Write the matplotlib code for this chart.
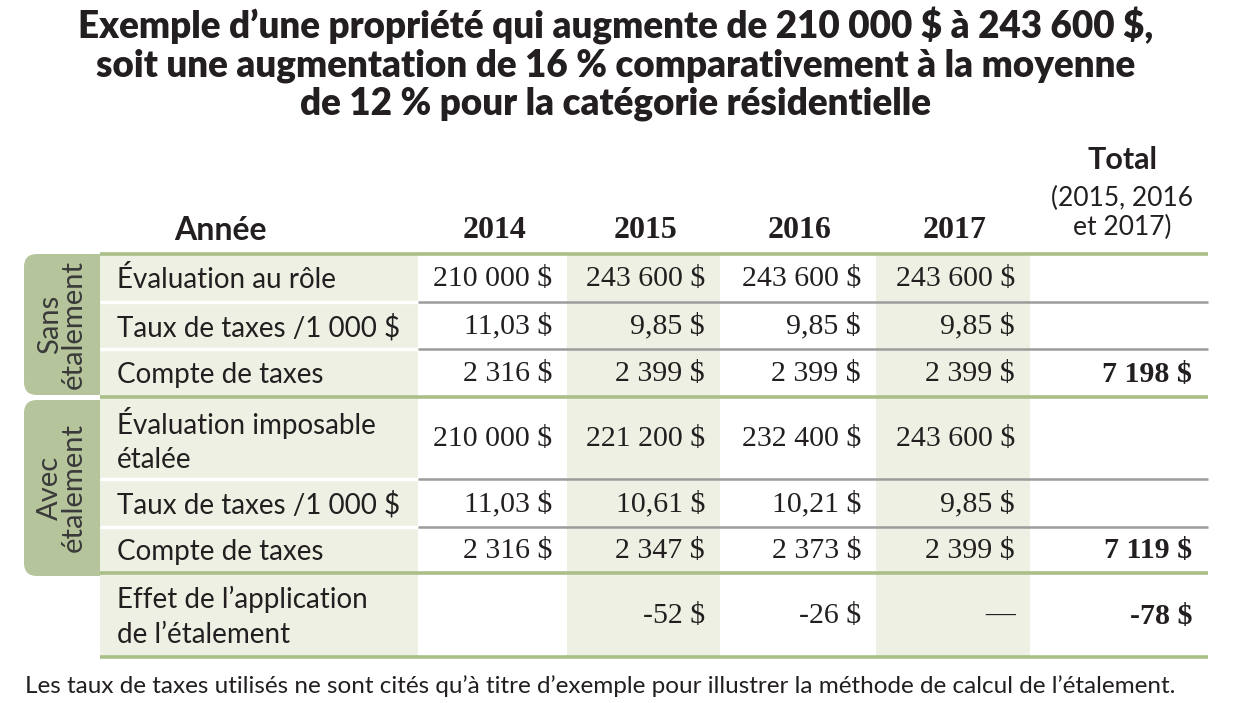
import matplotlib.pyplot as plt
from matplotlib.patches import Rectangle, FancyBboxPatch

# table data
years = ['2014', '2015', '2016', '2017']
sans_eval = [210000, 243600, 243600, 243600]
sans_taux = [11.03, 9.85, 9.85, 9.85]
sans_compte = [2316, 2399, 2399, 2399]
sans_total = 7198
avec_eval = [210000, 221200, 232400, 243600]
avec_taux = [11.03, 10.61, 10.21, 9.85]
avec_compte = [2316, 2347, 2373, 2399]
avec_total = 7119
effet = [None, -52, -26, 0]
effet_total = -78

row_labels = ['Évaluation au rôle', 'Taux de taxes /1 000 $', 'Compte de taxes',
              'Évaluation imposable\nétalée', 'Taux de taxes /1 000 $', 'Compte de taxes',
              'Effet de l’application\nde l’étalement']
group_labels = ['Sans\nétalement', 'Avec\nétalement']

title = ('Exemple d’une propriété qui augmente de 210 000 $ à 243 600 $,\n'
         'soit une augmentation de 16 % comparativement à la moyenne\n'
         'de 12 % pour la catégorie résidentielle')
note = ('Les taux de taxes utilisés ne sont cités qu’à titre d’exemple pour '
        'illustrer la méthode de calcul de l’étalement.')


def money(v, dec=0):
    if v is None:
        return ''
    if v == 0:
        return '—'
    s = f'{v:,.{dec}f}'.replace(',', ' ').replace('.', ',')
    return s + ' $'


rows = [[money(v) for v in sans_eval],
        [money(v, 2) for v in sans_taux],
        [money(v) for v in sans_compte],
        [money(v) for v in avec_eval],
        [money(v, 2) for v in avec_taux],
        [money(v) for v in avec_compte],
        [money(v) for v in effet]]
totals = ['', '', money(sans_total), '', '', money(avec_total), money(effet_total)]

# layout (pixels)
col_edges = [418, 567, 720, 876, 1030, 1208]
row_edges = [254, 302, 349, 397, 479, 527, 573, 657]

tab_green = '#b5c49a'
light_green = '#edf0e2'
line_green = '#a9bf88'
grey = '#9c9c9c'
ink = '#231f20'
sans = 'Lato'
serif = 'Liberation Serif'

fig = plt.figure(figsize=(12.5, 7.03), dpi=100)
ax = fig.add_axes([0, 0, 1, 1])
ax.set_xlim(0, 1250)
ax.set_ylim(703, 0)
ax.axis('off')


def txt(x, y, s, **kw):
    kw.setdefault('color', ink)
    return ax.text(x, y, s, parse_math=False, **kw)


txt(616, 64, title, ha='center', va='center', fontsize=26.5, fontweight='heavy',
    family=sans, linespacing=1.13)

# group tabs
for (y0, y1), lab in zip([(254, 395), (400, 576)], group_labels):
    ax.add_patch(FancyBboxPatch((24, y0), 90, y1 - y0,
                                boxstyle='round,pad=0,rounding_size=13',
                                fc=tab_green, ec='none'))
    txt(62, (y0 + y1) / 2, lab, rotation=90, ha='center', va='center',
        fontsize=21, family=sans, color='#3a3a3a', linespacing=0.92)

# label column and shaded year columns
ax.add_patch(Rectangle((100, 254), 318, 403, fc=light_green, ec='none'))
for i in [1, 3]:
    ax.add_patch(Rectangle((col_edges[i], 254), col_edges[i + 1] - col_edges[i], 403,
                           fc=light_green, ec='none'))

# row separators
for k, y in enumerate(row_edges):
    if k in (0, 3, 6, 7):
        ax.plot([100, 1208], [y, y], color=line_green, lw=2.6, solid_capstyle='butt')
    else:
        ax.plot([100, 418], [y, y], color='white', lw=2.5, solid_capstyle='butt')
        ax.plot([418, 1208], [y, y], color=grey, lw=1.8, solid_capstyle='butt')

# header
txt(220, 230, 'Année', ha='center', va='center', fontsize=23, fontweight='bold',
    family=sans)
for i, yr in enumerate(years):
    txt((col_edges[i] + col_edges[i + 1]) / 2 + 2, 230, yr, ha='center', va='center',
        fontsize=23, fontweight='bold', family=serif)
txt(1122, 160, 'Total', ha='center', va='center', fontsize=22, fontweight='bold',
    family=sans)
txt(1122, 213, '(2015, 2016\net 2017)', ha='center', va='center', fontsize=19,
    family=sans, linespacing=1.2)

# body
for r in range(len(rows)):
    yc = (row_edges[r] + row_edges[r + 1]) / 2
    txt(117, yc + 2, row_labels[r], ha='left', va='center', fontsize=20,
        family=sans, linespacing=1.4)
    for i, s in enumerate(rows[r]):
        txt(col_edges[i + 1] - 15, yc + 1, s, ha='right', va='center', fontsize=21.5,
            family=serif)
    if totals[r]:
        txt(1192, yc + 1, totals[r], ha='right', va='center', fontsize=21.5,
            fontweight='bold', family=serif)

txt(25, 686, note, ha='left', va='center', fontsize=17.5, family=sans)

fig.savefig('out.png', dpi=100, facecolor='white')
